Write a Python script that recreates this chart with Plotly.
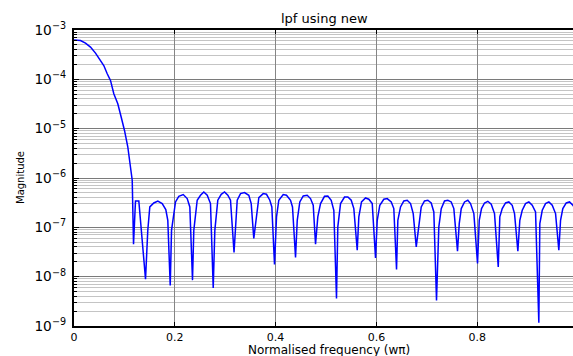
import plotly.graph_objects as go

# Low-pass filter magnitude response, passband roll-off
passband_freq = [0.0, 0.003, 0.0129, 0.0228, 0.0327, 0.0427, 0.0526, 0.0591, 0.0659,
                 0.0724, 0.079, 0.0869, 0.0937, 0.1002, 0.1067, 0.1121, 0.1155]
passband_mag = [6.3e-4, 6.3e-4, 6.1e-4, 5.4e-4, 4.5e-4, 3.4e-4, 2.4e-4, 1.9e-4, 1.3e-4,
                9.5e-5, 5.1e-5, 3.2e-5, 1.7e-5, 9.2e-6, 4.3e-6, 1.7e-6, 9.0e-7]

# Stopband ripple (sidelobes and nulls)
stopband_freq = [
    0.1181, 0.1220, 0.1286, 0.1419,
    0.1464, 0.1504, 0.1583, 0.1663, 0.1750, 0.1821, 0.1861, 0.1909,
    0.1935, 0.2014, 0.2079, 0.2167, 0.2246, 0.2298, 0.2351,
    0.2377, 0.2444, 0.2510, 0.2575, 0.2643, 0.2708, 0.2762,
    0.2794, 0.2853, 0.2921, 0.2986, 0.3052, 0.3105, 0.3175,
    0.3238, 0.3304, 0.3383, 0.3468, 0.3516, 0.3567,
    0.3621, 0.3667, 0.3754, 0.3819, 0.3885, 0.3925, 0.3978,
    0.4018, 0.4063, 0.4151, 0.4216, 0.4296, 0.4335, 0.4395,
    0.4429, 0.4480, 0.4548, 0.4627, 0.4692, 0.4746, 0.4792,
    0.4837, 0.4891, 0.4970, 0.5036, 0.5103, 0.5155, 0.5208,
    0.5234, 0.5288, 0.5367, 0.5433, 0.5500, 0.5552, 0.5619,
    0.5651, 0.5704, 0.5784, 0.5849, 0.5917, 0.5982,
    0.6016, 0.6067, 0.6147, 0.6214, 0.6294, 0.6345, 0.6399,
    0.6425, 0.6478, 0.6544, 0.6611, 0.6677, 0.6730, 0.6790,
    0.6841, 0.6889, 0.6954, 0.7020, 0.7087, 0.7139, 0.7192,
    0.7238, 0.7286, 0.7351, 0.7417, 0.7484, 0.7536, 0.7609,
    0.7643, 0.7683, 0.7748, 0.7813, 0.7867, 0.7933, 0.8006,
    0.8040, 0.8085, 0.8145, 0.8210, 0.8278, 0.8343, 0.8417,
    0.8448, 0.8496, 0.8562, 0.8627, 0.8694, 0.8740, 0.8806,
    0.8845, 0.8893, 0.8958, 0.9024, 0.9091, 0.9157, 0.9222,
    0.9242, 0.9290, 0.9355, 0.9421, 0.9488, 0.9554, 0.9619,
    0.9653, 0.9698, 0.9766, 0.9831, 0.9897, 0.9970,
]
stopband_mag = [
    4.55e-8, 3.42e-7, 3.42e-7, 8.9e-9,
    8.7e-8, 2.59e-7, 3.12e-7, 3.42e-7, 3.03e-7, 2.29e-7, 1.39e-7, 6.6e-9,
    8.7e-8, 3.27e-7, 4.26e-7, 4.61e-7, 3.83e-7, 2.59e-7, 8.5e-9,
    8.7e-8, 3.54e-7, 4.47e-7, 5.21e-7, 4.47e-7, 3.03e-7, 5.9e-9,
    8.7e-8, 3.54e-7, 4.68e-7, 5.21e-7, 4.47e-7, 3.54e-7, 3.08e-8,
    3.54e-7, 4.83e-7, 5.06e-7, 4.47e-7, 3.03e-7, 5.93e-8,
    1.9e-7, 4.01e-7, 4.83e-7, 4.68e-7, 3.54e-7, 2.59e-7, 1.77e-8,
    1.63e-7, 3.54e-7, 4.61e-7, 4.47e-7, 3.54e-7, 2.59e-7, 2.45e-8,
    1.39e-7, 3.27e-7, 4.32e-7, 4.47e-7, 3.83e-7, 2.8e-7, 4.55e-8,
    1.63e-7, 3.03e-7, 4.26e-7, 4.32e-7, 3.54e-7, 2.22e-7, 3.6e-9,
    1.02e-7, 3.03e-7, 4.12e-7, 4.12e-7, 3.54e-7, 2.4e-7, 3.44e-8,
    1.63e-7, 3.27e-7, 3.94e-7, 3.71e-7, 3.03e-7, 2.40e-8,
    1.39e-7, 2.8e-7, 3.71e-7, 3.83e-7, 3.27e-7, 2.4e-7, 1.4e-8,
    1.39e-7, 2.59e-7, 3.42e-7, 3.54e-7, 3.03e-7, 1.9e-7, 4.01e-8,
    1.19e-7, 2.59e-7, 3.42e-7, 3.54e-7, 3.12e-7, 2.05e-7, 3.3e-9,
    1.02e-7, 2.4e-7, 3.42e-7, 3.54e-7, 3.27e-7, 2.4e-7, 3.28e-8,
    1.19e-7, 2.4e-7, 3.27e-7, 3.54e-7, 3.03e-7, 1.9e-7, 1.85e-8,
    1.39e-7, 2.4e-7, 3.12e-7, 3.37e-7, 2.94e-7, 1.9e-7, 1.58e-8,
    1.63e-7, 2.4e-7, 3.12e-7, 3.27e-7, 2.8e-7, 1.9e-7, 3.28e-8,
    1.39e-7, 2.22e-7, 3.03e-7, 3.27e-7, 2.8e-7, 2.05e-7, 1.16e-9,
    1.19e-7, 2.22e-7, 3.03e-7, 3.27e-7, 2.8e-7, 1.9e-7, 3.44e-8,
    1.39e-7, 2.4e-7, 3.12e-7, 3.27e-7, 2.8e-7, 2.2e-7,
]

x_ticks = [0, 0.2, 0.4, 0.6, 0.8]
x_tick_labels = ["0", "0.2", "0.4", "0.6", "0.8"]

title_text = "lpf using new"
x_title = "Normalised frequency (w\u03c0)"
y_title = "Magnitude"

freq = passband_freq + stopband_freq
magnitude = passband_mag + stopband_mag

FONT = "DejaVu Sans, Liberation Sans, sans-serif"

fig = go.Figure()
fig.add_trace(go.Scatter(
    x=freq, y=magnitude, mode="lines",
    line=dict(color="#0000ff", width=1.5),
    hoverinfo="skip", showlegend=False,
))

fig.update_layout(
    width=573, height=356,
    margin=dict(l=74, r=0, t=30, b=30),
    paper_bgcolor="white", plot_bgcolor="white",
    font=dict(family=FONT, size=11, color="black"),
    xaxis=dict(
        range=[0, 0.990],
        tickvals=x_ticks, ticktext=x_tick_labels,
        showgrid=True, gridcolor="#858585", gridwidth=1,
        zeroline=False,
        showline=True, linecolor="black", linewidth=1.5, mirror="ticks",
        ticks="inside", ticklen=4, tickcolor="black",
        tickfont=dict(family=FONT, size=11),
        ticklabelstandoff=0,
    ),
    yaxis=dict(
        type="log", range=[-9, -3], dtick=1,
        exponentformat="power",
        showgrid=True, gridcolor="#7a7a7a", gridwidth=1,
        zeroline=False,
        showline=True, linecolor="black", linewidth=1.5,
        ticks="inside", ticklen=5, tickcolor="black",
        tickfont=dict(family=FONT, size=11),
        ticklabelstandoff=4,
        minor=dict(dtick="D1", showgrid=True, gridcolor="#c4c4c4", gridwidth=1,
                   ticks="inside", ticklen=3, tickcolor="black"),
    ),
    annotations=[
        dict(text=title_text, xref="paper", yref="paper",
             x=(324 - 74) / 499, y=1, yshift=12, showarrow=False,
             xanchor="center", yanchor="middle",
             font=dict(family=FONT, size=13)),
        dict(text=x_title, xref="paper", yref="paper",
             x=(329 - 74) / 499, y=0, yshift=-24, showarrow=False,
             xanchor="center", yanchor="middle",
             font=dict(family=FONT, size=12)),
        dict(text=y_title, xref="paper", yref="paper",
             x=0, xshift=-54, y=0.5, showarrow=False, textangle=-90,
             xanchor="center", yanchor="middle",
             font=dict(family=FONT, size=10)),
    ],
)

fig.write_html("out.html")
